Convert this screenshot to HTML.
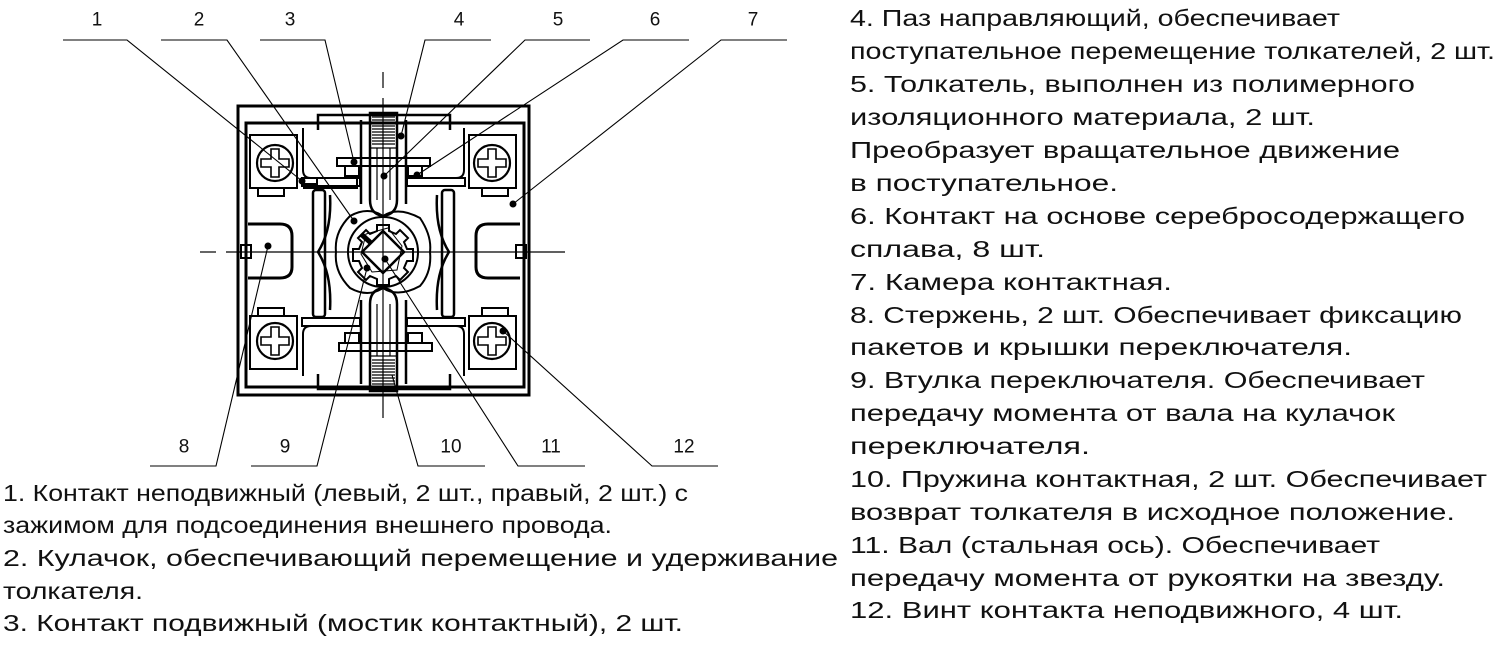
<!DOCTYPE html>
<html><head><meta charset="utf-8"><style>
html,body{margin:0;padding:0;background:#fff;width:1506px;height:658px;overflow:hidden}
svg{display:block}
text{font-family:"Liberation Sans","DejaVu Sans",sans-serif;fill:#111}
.t{font-size:23px}
.n{font-size:19px}
</style></head><body>
<svg width="1506" height="658" viewBox="0 0 1506 658" xmlns="http://www.w3.org/2000/svg">
<g stroke="#000" fill="none">
<line x1="383" y1="72" x2="383" y2="88" stroke-width="1.2"/>
<line x1="383" y1="98" x2="383" y2="418" stroke-width="1.2"/>
<line x1="200" y1="252" x2="216" y2="252" stroke-width="1.2"/>
<line x1="226" y1="252" x2="565" y2="252" stroke-width="1.2"/>
<rect x="238" y="106" width="291" height="289" stroke-width="3"/>
<rect x="246" y="123" width="278" height="264" stroke-width="3"/>
<path d="M318 130 V115 H450 V130" stroke-width="2.5"/>
<path d="M318 374 V389 H450 V374" stroke-width="2.5"/>
<g stroke-width="2">
<rect x="250" y="135" width="47" height="53"/><rect x="258" y="188" width="26" height="8"/>
<rect x="469" y="135" width="47" height="53"/><rect x="482" y="188" width="26" height="8"/>
<rect x="250" y="316" width="47" height="53"/><rect x="258" y="308" width="26" height="8"/>
<rect x="469" y="316" width="47" height="53"/><rect x="482" y="308" width="26" height="8"/>
</g>
<g stroke-width="2.2">
<circle cx="275" cy="163" r="18"/><circle cx="492" cy="163" r="18"/>
<circle cx="275" cy="341" r="18"/><circle cx="492" cy="341" r="18"/>
</g>
<g stroke-width="1.6">
<path d="M271 149h8v10h10v8h-10v10h-8v-10h-10v-8h10z"/>
<path d="M488 149h8v10h10v8h-10v10h-8v-10h-10v-8h10z"/>
<path d="M271 327h8v10h10v8h-10v10h-8v-10h-10v-8h10z"/>
<path d="M488 327h8v10h10v8h-10v10h-8v-10h-10v-8h10z"/>
</g>
<g stroke-width="2">
<path d="M303 128 V170 Q303 178 311 178 H317 V184 H304 V188 H357 V177 H345"/>
<rect x="302" y="178" width="58" height="8"/>
<rect x="407" y="178" width="58" height="8"/>
<path d="M464 128 V170 Q464 178 456 178 H450"/>
<rect x="302" y="318" width="58" height="8"/>
<rect x="407" y="318" width="58" height="8"/>
<path d="M303 376 V334 Q303 326 311 326 H317"/>
<path d="M464 376 V334 Q464 326 456 326 H450"/>
</g>
<g stroke-width="2">
<rect x="337" y="158" width="93" height="8"/>
<rect x="345" y="166" width="14" height="10"/><rect x="408" y="166" width="14" height="10"/>
<rect x="339" y="343" width="93" height="8"/>
<rect x="345" y="333" width="14" height="10"/><rect x="408" y="333" width="14" height="10"/>
</g>
<g stroke-width="2.5">
<path d="M370 113 V200 Q370 214 383 216 Q397 214 397 200 V113 Z"/>
<path d="M370 391 V304 Q370 290 383 288 Q397 290 397 304 V391 Z"/>
<line x1="361" y1="120" x2="361" y2="204"/><line x1="406" y1="120" x2="406" y2="204"/>
<line x1="361" y1="300" x2="361" y2="384"/><line x1="406" y1="300" x2="406" y2="384"/>
</g>
<g stroke-width="1.2">
<line x1="377" y1="148" x2="377" y2="200"/><line x1="390" y1="148" x2="390" y2="200"/>
<line x1="377" y1="304" x2="377" y2="356"/><line x1="390" y1="304" x2="390" y2="356"/>
<line x1="370" y1="148" x2="397" y2="148"/><line x1="370" y1="356" x2="397" y2="356"/>
</g>
<g stroke-width="1.3">
<path d="M372 117h23M372 120h23M372 123h23M372 126h23M372 129h23M372 132h23M372 135h23M372 138h23M372 141h23M372 144h23"/>
<path d="M372 360h23M372 363h23M372 366h23M372 369h23M372 372h23M372 375h23M372 378h23M372 381h23M372 384h23M372 387h23"/>
</g>
<g stroke-width="2.5">
<rect x="313" y="190" width="12" height="127" rx="3"/>
<rect x="442" y="190" width="12" height="127" rx="3"/>
<path d="M330 195 Q332 230 318 252 Q332 274 330 310"/>
<path d="M437 195 Q435 230 449 252 Q435 274 437 310"/>
</g>
<g stroke-width="3">
<path d="M248 224 H280 Q292 224 292 236 V267 Q292 278 280 278 H248"/>
<path d="M520 224 H488 Q476 224 476 236 V267 Q476 278 488 278 H520"/>
</g>
<g stroke-width="2">
<rect x="241" y="245" width="10" height="13"/><rect x="516" y="245" width="10" height="13"/>
</g>
<g stroke-width="2">
<path d="M350 216 Q368 206 383 216 Q398 206 420 218 Q432 236 430 252 Q432 272 420 286 Q398 298 383 288 Q368 298 350 288 Q334 272 336 252 Q334 232 350 216 Z"/>
<circle cx="383" cy="252" r="35"/>
<path d="M377 225h12v6l7 3 4-4 8 8-4 4 3 7h6v12h-6l-3 7 4 4-8 8-4-4-7 3v6h-12v-6l-7-3-4 4-8-8 4-4-3-7h-6v-12h6l3-7-4-4 8-8 4 4 7-3z"/>
<path d="M383 231 L404 252 L383 273 L362 252 Z" stroke-width="2.5"/>
<path d="M366 234 L388 228 L402 246 L397 270 L372 272 L361 254 Z" stroke-width="1"/>
<line x1="361" y1="234" x2="371" y2="243" stroke-width="5"/>
</g>
<g stroke-width="1.1">
<path d="M63 40H127L302 181"/>
<path d="M161 40H227L354 221"/>
<path d="M260 40H325L354 162"/>
<path d="M491 40H425L401 136"/>
<path d="M590 40H525L384 176"/>
<path d="M689 40H623L417 175"/>
<path d="M787 40H721L513 204"/>
<path d="M150 466H216L268 246"/>
<path d="M251 466H317L367 268"/>
<path d="M485 466H418L392 375"/>
<path d="M585 466H518L385 259"/>
<path d="M718 466H652L503 331"/>
</g>
</g>
<g fill="#000">
<circle cx="302" cy="181" r="3.5"/><circle cx="354" cy="221" r="3.5"/><circle cx="354" cy="162" r="3.5"/>
<circle cx="401" cy="136" r="3.5"/><circle cx="384" cy="176" r="3.5"/><circle cx="417" cy="175" r="3.5"/>
<circle cx="513" cy="204" r="3.5"/><circle cx="268" cy="246" r="3.5"/><circle cx="367" cy="268" r="3.5"/>
<circle cx="385" cy="259" r="3.5"/><circle cx="503" cy="331" r="3.5"/>
</g>
<g class="n" text-anchor="middle" dominant-baseline="central">
<text x="97" y="20">1</text><text x="199" y="20">2</text><text x="290" y="20">3</text><text x="459" y="20">4</text>
<text x="558" y="20">5</text><text x="655" y="20">6</text><text x="753" y="20">7</text>
<text x="184" y="447">8</text><text x="285" y="447">9</text><text x="451" y="447">10</text>
<text x="551" y="447">11</text><text x="684" y="447">12</text>
</g>
<g class="t" dominant-baseline="central">
<text x="850" y="18" textLength="490" lengthAdjust="spacingAndGlyphs">4. Паз направляющий, обеспечивает</text>
<text x="850" y="51" textLength="645" lengthAdjust="spacingAndGlyphs">поступательное перемещение толкателей, 2 шт.</text>
<text x="850" y="84" textLength="565" lengthAdjust="spacingAndGlyphs">5. Толкатель, выполнен из полимерного</text>
<text x="850" y="117" textLength="465" lengthAdjust="spacingAndGlyphs">изоляционного материала, 2 шт.</text>
<text x="850" y="150" textLength="550" lengthAdjust="spacingAndGlyphs">Преобразует вращательное движение</text>
<text x="850" y="183" textLength="268" lengthAdjust="spacingAndGlyphs">в поступательное.</text>
<text x="850" y="216" textLength="615" lengthAdjust="spacingAndGlyphs">6. Контакт на основе серебросодержащего</text>
<text x="850" y="249" textLength="195" lengthAdjust="spacingAndGlyphs">сплава, 8 шт.</text>
<text x="850" y="282" textLength="322" lengthAdjust="spacingAndGlyphs">7. Камера контактная.</text>
<text x="850" y="315" textLength="612" lengthAdjust="spacingAndGlyphs">8. Стержень, 2 шт. Обеспечивает фиксацию</text>
<text x="850" y="347" textLength="502" lengthAdjust="spacingAndGlyphs">пакетов и крышки переключателя.</text>
<text x="850" y="380" textLength="575" lengthAdjust="spacingAndGlyphs">9. Втулка переключателя. Обеспечивает</text>
<text x="850" y="413" textLength="545" lengthAdjust="spacingAndGlyphs">передачу момента от вала на кулачок</text>
<text x="850" y="446" textLength="240" lengthAdjust="spacingAndGlyphs">переключателя.</text>
<text x="850" y="479" textLength="637" lengthAdjust="spacingAndGlyphs">10. Пружина контактная, 2 шт. Обеспечивает</text>
<text x="850" y="512" textLength="605" lengthAdjust="spacingAndGlyphs">возврат толкателя в исходное положение.</text>
<text x="850" y="545" textLength="530" lengthAdjust="spacingAndGlyphs">11. Вал (стальная ось). Обеспечивает</text>
<text x="850" y="578" textLength="595" lengthAdjust="spacingAndGlyphs">передачу момента от рукоятки на звезду.</text>
<text x="850" y="610" textLength="553" lengthAdjust="spacingAndGlyphs">12. Винт контакта неподвижного, 4 шт.</text>
<text x="3" y="493" textLength="685" lengthAdjust="spacingAndGlyphs">1. Контакт неподвижный (левый, 2 шт., правый, 2 шт.) с</text>
<text x="3" y="525" textLength="609" lengthAdjust="spacingAndGlyphs">зажимом для подсоединения внешнего провода.</text>
<text x="3" y="558" textLength="835" lengthAdjust="spacingAndGlyphs">2. Кулачок, обеспечивающий перемещение и удерживание</text>
<text x="3" y="591" textLength="140" lengthAdjust="spacingAndGlyphs">толкателя.</text>
<text x="3" y="623" textLength="680" lengthAdjust="spacingAndGlyphs">3. Контакт подвижный (мостик контактный), 2 шт.</text>
</g>
</svg>
</body></html>
